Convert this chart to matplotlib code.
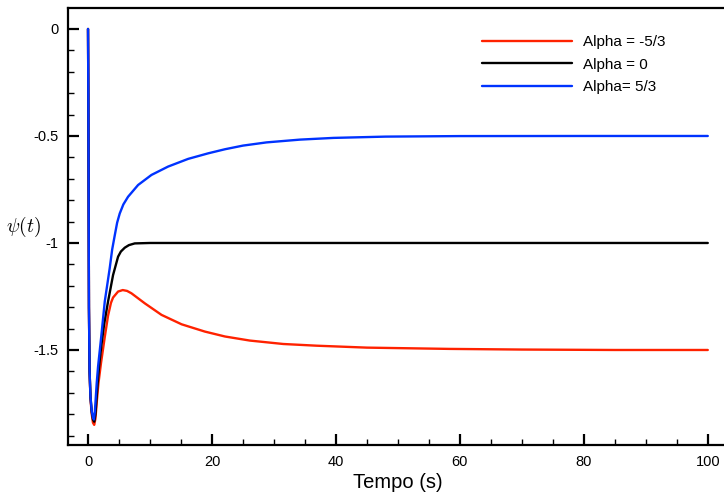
import matplotlib

matplotlib.use("Agg")
import matplotlib.pyplot as plt
from matplotlib.ticker import MultipleLocator

plt.rcParams["font.family"] = ["Liberation Sans", "DejaVu Sans"]
plt.rcParams["mathtext.fontset"] = "cm"

# psi(t) samples for each alpha
t_neg = [0, 0.05, 0.1, 0.15, 0.25, 0.4, 0.6, 0.8, 1.0, 1.2, 1.45, 1.68, 2.1, 2.7,
         3.23, 3.7, 4.04, 4.85, 5.6, 6.3, 7.0, 9.16, 11.86, 15.1, 18.85, 22.1, 26.1,
         31.5, 36.9, 45, 58.4, 70, 85, 100]
psi_neg = [0, -0.3, -0.8, -1.3, -1.6, -1.73, -1.8, -1.84, -1.85, -1.82, -1.73, -1.656,
           -1.56, -1.44, -1.34, -1.28, -1.255, -1.227, -1.22, -1.224, -1.235, -1.282,
           -1.336, -1.38, -1.414, -1.437, -1.456, -1.472, -1.48, -1.489, -1.495,
           -1.498, -1.5, -1.5]

t_zero = [0, 0.05, 0.1, 0.15, 0.25, 0.4, 0.6, 0.8, 1.0, 1.2, 1.55, 1.84, 2.16, 2.6,
          3.23, 4.04, 4.85, 5.3, 5.93, 6.6, 7.54, 10, 20, 40, 60, 80, 100]
psi_zero = [0, -0.3, -0.8, -1.3, -1.6, -1.72, -1.79, -1.825, -1.835, -1.80, -1.656,
            -1.56, -1.477, -1.38, -1.274, -1.15, -1.064, -1.04, -1.022, -1.01, -1.002,
            -1.0, -1.0, -1.0, -1.0, -1.0, -1.0]

t_pos = [0, 0.05, 0.1, 0.15, 0.25, 0.4, 0.6, 0.8, 0.95, 1.1, 1.4, 1.62, 2.16, 2.7,
         3.5, 3.9, 4.31, 4.7, 5.12, 5.7, 6.46, 8.08, 10.24, 12.92, 16.16, 19.4, 22.1,
         25, 28.8, 34.2, 39.6, 48, 60, 80, 100]
psi_pos = [0, -0.3, -0.8, -1.3, -1.6, -1.72, -1.785, -1.815, -1.825, -1.79, -1.656,
           -1.578, -1.43, -1.274, -1.118, -1.03, -0.965, -0.905, -0.862, -0.82,
           -0.784, -0.729, -0.682, -0.643, -0.607, -0.581, -0.562, -0.545, -0.53,
           -0.517, -0.509, -0.503, -0.5005, -0.5, -0.5]

series = [
    (t_neg, psi_neg, "#ff2200", "Alpha = -5/3"),
    (t_zero, psi_zero, "black", "Alpha = 0"),
    (t_pos, psi_pos, "#0033ff", "Alpha= 5/3"),
]

fig = plt.figure(figsize=(7.24, 4.95), dpi=100)
ax = fig.add_axes([68 / 724, 1 - 445 / 495, (727 - 68) / 724, (445 - 8) / 495])

for t, psi, color, label in series:
    ax.plot(t, psi, color=color, lw=1.7, label=label,
            solid_joinstyle="round", solid_capstyle="round")

ax.set_xlim(-3.23, 103.1)
ax.set_ylim(-1.944, 0.098)
ax.xaxis.set_major_locator(MultipleLocator(20))
ax.xaxis.set_minor_locator(MultipleLocator(5))
ax.yaxis.set_minor_locator(MultipleLocator(0.1))
ax.set_yticks([0, -0.5, -1, -1.5], ["0", "-0.5", "-1", "-1.5"])

ax.tick_params(which="both", direction="in", top=False, right=False,
               labelsize=10.5, pad=7)
ax.tick_params(which="major", length=8, width=1.6)
ax.tick_params(which="minor", length=4, width=1.0)
for side in ("left", "bottom", "top"):
    ax.spines[side].set_linewidth(1.6)
ax.spines["right"].set_visible(False)

ax.set_xlabel("Tempo (s)", fontsize=14.5, va="center")
ax.xaxis.set_label_coords(0.5, -0.085)
ax.set_ylabel(r"$\psi(t)$", fontsize=14, rotation=0, ha="center", va="center")
ax.yaxis.set_label_coords(-0.067, 0.5)

ax.legend(loc="upper left", bbox_to_anchor=(476 / 724, 1 - 29 / 495),
          bbox_transform=fig.transFigure, borderaxespad=0, frameon=False,
          fontsize=11, handlelength=5.9, handletextpad=0.72, labelspacing=0.55)

fig.savefig("out.png", dpi=100)
plt.close(fig)
